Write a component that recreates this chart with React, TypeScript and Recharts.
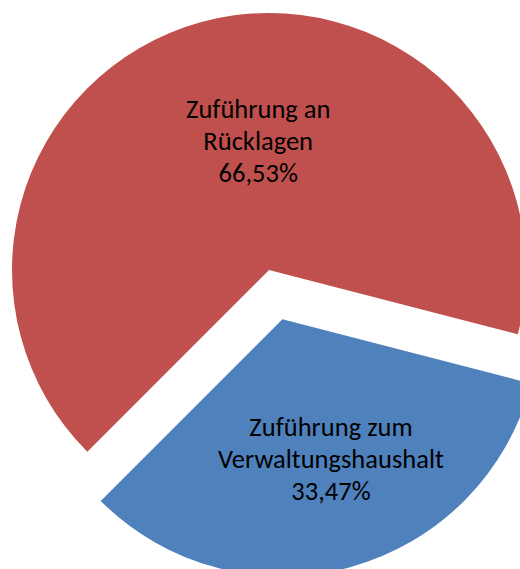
import { PieChart, Pie, Cell } from 'recharts';

// slice data
const categories = ['Zuführung an Rücklagen', 'Zuführung zum Verwaltungshaushalt'];
const labelLines = [['Zuführung an', 'Rücklagen'], ['Zuführung zum', 'Verwaltungshaushalt']];
const shares = [66.53, 33.47];
const colors = ['#C0504D', '#4F81BD'];
const explodedIndex = 1;

const data = categories.map((name, i) => ({ name, value: shares[i], lines: labelLines[i] }));

// layout
const W = 520;
const H = 569;
const CX = 269;
const CY = 270;
const R = 257;
const START = -14.5;
const EXPLODE = 51;
const RAD = Math.PI / 180;
const FONT = 'Carlito, Lato, sans-serif';
const FONT_SIZE = 26.5;
const LINE = 31.7;
const labelRadius = [0.5, 0.6];
const labelNudge = [[23, 4], [8, 0]];

const total = shares.reduce((a, b) => a + b, 0);
const before = shares.slice(0, explodedIndex).reduce((a, b) => a + b, 0);
const explodeMid = START + (360 * (before + shares[explodedIndex] / 2)) / total;
const ex = CX + EXPLODE * Math.cos(explodeMid * RAD);
const ey = CY - EXPLODE * Math.sin(explodeMid * RAD);

const pct = (v: number) => ((v / total) * 100).toFixed(2).replace('.', ',') + '%';

const makeLabel = (visible: number) => (props: any) => {
  const { cx, cy, midAngle, outerRadius, index } = props;
  if (index !== visible) return null;
  const r = outerRadius * labelRadius[index];
  const x = cx + r * Math.cos(-midAngle * RAD) + labelNudge[index][0];
  const y = cy + r * Math.sin(-midAngle * RAD) + labelNudge[index][1];
  const lines = [...data[index].lines, pct(data[index].value)];
  return (
    <text textAnchor="middle" fontFamily={FONT} fontSize={FONT_SIZE} fill="#000">
      {lines.map((t, k) => (
        <tspan key={k} x={x} y={y + (k - 1) * LINE}>
          {t}
        </tspan>
      ))}
    </text>
  );
};

export default function App() {
  return (
    <div style={{ position: 'absolute', left: 0, top: 0, width: W, height: H, overflow: 'hidden', background: '#fff' }}>
      <PieChart width={W} height={H} margin={{ top: 0, right: 0, bottom: 0, left: 0 }}>
        <Pie
          data={data}
          dataKey="value"
          cx={CX}
          cy={CY}
          outerRadius={R}
          startAngle={START}
          endAngle={START + 360}
          stroke="none"
          labelLine={false}
          label={makeLabel(0)}
          isAnimationActive={false}
        >
          {data.map((d, i) => (
            <Cell key={d.name} fill={i === explodedIndex ? 'transparent' : colors[i]} />
          ))}
        </Pie>
        <Pie
          data={data}
          dataKey="value"
          cx={ex}
          cy={ey}
          outerRadius={R}
          startAngle={START}
          endAngle={START + 360}
          stroke="none"
          labelLine={false}
          label={makeLabel(explodedIndex)}
          isAnimationActive={false}
        >
          {data.map((d, i) => (
            <Cell key={d.name} fill={i === explodedIndex ? colors[i] : 'transparent'} />
          ))}
        </Pie>
      </PieChart>
    </div>
  );
}
